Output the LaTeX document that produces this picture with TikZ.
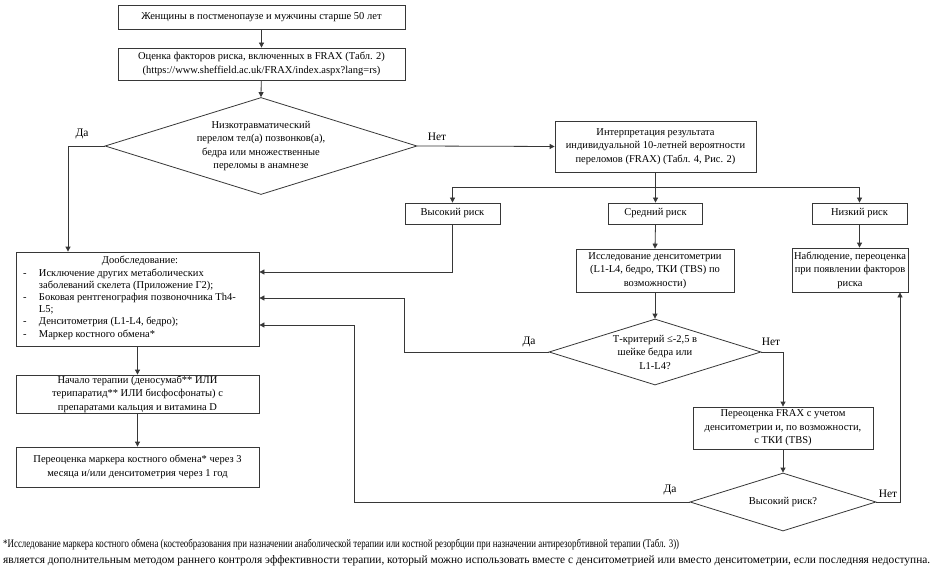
\documentclass[tikz,border=0pt]{standalone}
\usepackage{fontspec}
\usepackage{graphicx}
\setmainfont{Liberation Serif}
\usetikzlibrary{arrows.meta,shapes.geometric}
\definecolor{lc}{RGB}{55,55,55}
\newcommand\bxf{\fontsize{10.5}{13.5}\selectfont}
\newcommand\smf{\fontsize{10.5}{12.2}\selectfont}
\begin{document}
\begin{tikzpicture}[x=1pt,y=-1pt,
 box/.style={draw=lc,line width=0.8pt,fill=white,inner sep=0pt,align=center,font=\bxf},
 dia/.style={draw=lc,line width=0.8pt,diamond,inner sep=0pt,fill=white},
 txt/.style={inner sep=0pt,align=center,font=\bxf},
 arr/.style={draw=lc,line width=0.8pt,-{Triangle[length=5pt,width=5pt]}},
 ln/.style={draw=lc,line width=0.8pt},
 lbl/.style={font=\fontsize{11.5}{13}\selectfont,inner sep=0pt}]
\fill[white] (0,0) rectangle (933,569);
\useasboundingbox (0,0) rectangle (933,569);

% boxes
\node[box,minimum width=287pt,minimum height=24pt] (b1) at (261.5,17) {Женщины в постменопаузе и мужчины старше 50 лет};
\node[box,minimum width=287pt,minimum height=32pt] (b2) at (261.5,64) {Оценка факторов риска, включенных в FRAX (Табл. 2)\\(https://www.sheffield.ac.uk/FRAX/index.aspx?lang=rs)};
\node[dia,minimum width=312pt,minimum height=97pt] (d1) at (261,146) {};
\node[txt] (d1t) at (d1.center) {Низкотравматический\\перелом тел(а) позвонков(а),\\бедра или множественные\\переломы в анамнезе};
\node[box,minimum width=201pt,minimum height=51pt] (interp) at (655.5,146.5) {Интерпретация результата\\индивидуальной 10-летней вероятности\\переломов (FRAX) (Табл. 4, Рис. 2)};
\node[box,minimum width=95pt,minimum height=21pt] (high) at (452.5,213.5) {Высокий риск};
\node[box,minimum width=94pt,minimum height=21pt] (mid) at (655.5,213.5) {Средний риск};
\node[box,minimum width=95pt,minimum height=21pt] (low) at (859.5,213.5) {Низкий риск};
\node[box,minimum width=243pt,minimum height=94pt] (dob) at (137.5,299) {};
\node[inner sep=0pt,font=\smf] (dobt) at (140,298) {\renewcommand\arraystretch{1}\begin{tabular}{@{}p{16pt}@{}p{218pt}@{}}
\multicolumn{2}{@{}c@{}}{Дообследование:}\\
- & Исключение других метаболических\newline заболеваний скелета (Приложение Г2);\\
- & Боковая рентгенография позвоночника Th4-\newline L5;\\
- & Денситометрия (L1-L4, бедро);\\
- & Маркер костного обмена*
\end{tabular}};
\node[box,minimum width=158pt,minimum height=43pt] (dens) at (655,270.5) {Исследование денситометрии\\(L1-L4, бедро, ТКИ (TBS) по\\возможности)};
\node[box,minimum width=116pt,minimum height=44pt] (obs) at (850,270) {Наблюдение, переоценка\\при появлении факторов\\риска};
\node[dia,minimum width=212pt,minimum height=66pt] (d2) at (655,352) {};
\node[txt] (d2t) at (d2.center) {Т-критерий ≤-2,5 в\\шейке бедра или\\L1-L4?};
\node[box,minimum width=180pt,minimum height=42pt] (frax) at (783,428) {Переоценка FRAX с учетом\\денситометрии и, по возможности,\\с ТКИ (TBS)};
\node[dia,minimum width=186pt,minimum height=58pt] (d3) at (783,502) {};
\node[txt] (d3t) at (d3.center) {Высокий риск?};
\node[box,minimum width=243pt,minimum height=38pt] (start) at (137.5,394) {Начало терапии (деносумаб** ИЛИ\\терипаратид** ИЛИ бисфосфонаты) с\\препаратами кальция и витамина D};
\node[box,minimum width=243pt,minimum height=40pt] (reev) at (137.5,467) {Переоценка маркера костного обмена* через 3\\месяца и/или денситометрия через 1 год};

% labels
\node[lbl] (l1) at (82,134) {Да};
\node[lbl] (l2) at (437,137) {Нет};
\node[lbl] (l3) at (529,342) {Да};
\node[lbl] (l4) at (771,342) {Нет};
\node[lbl] (l5) at (670,490) {Да};
\node[lbl] (l6) at (888,494) {Нет};

% helper coordinates
\coordinate (c1) at (68,146);
\coordinate (hb) at (655.5,187);
\coordinate (y1) at (0,272);
\coordinate (c2) at (404,352);
\coordinate (y2) at (0,298);
\coordinate (c3) at (354,502);
\coordinate (y3) at (0,325);
\coordinate (c4) at (900,502);

% connectors
\draw[arr] (b1) -- (b2);
\draw[arr] (b2) -- (d1.north);
\draw[arr] (d1.west) -- (c1) -- (c1 |- dob.north);
\draw[arr] (d1.east) -- (interp.west);
\draw[ln] (interp.south) -- (hb);
\draw[arr] (hb) -| (high.north);
\draw[arr] (hb) -| (low.north);
\draw[arr] (hb) -- (mid.north);
\draw[arr] (high.south) |- (y1 -| dob.east);
\draw[arr] (mid.south) -- (dens.north);
\draw[arr] (dens.south) -- (d2.north);
\draw[arr] (d2.west) -- (c2) |- (y2 -| dob.east);
\draw[arr] (d2.east) -| (frax.north);
\draw[arr] (frax.south) -- (d3.north);
\draw[arr] (d3.west) -- (c3) |- (y3 -| dob.east);
\draw[arr] (d3.east) -- (c4) -- (c4 |- obs.south);
\draw[arr] (low.south) -- (low.south |- obs.north);
\draw[arr] (dob.south) -- (start.north);
\draw[arr] (start.south) -- (reev.north);

% footnote
\node[anchor=west,inner sep=0pt] (fn1) at (3,545) {\resizebox{676pt}{\height}{\fontsize{11.5}{13}\selectfont *Исследование маркера костного обмена (костеобразования при назначении анаболической терапии или костной резорбции при назначении антирезорбтивной терапии (Табл. 3))}};
\node[anchor=west,inner sep=0pt] (fn2) at (3,561) {\resizebox{927pt}{\height}{\fontsize{11.5}{13}\selectfont является дополнительным методом раннего контроля эффективности терапии, который можно использовать вместе с денситометрией или вместо денситометрии, если последняя недоступна.}};
\end{tikzpicture}
\end{document}
